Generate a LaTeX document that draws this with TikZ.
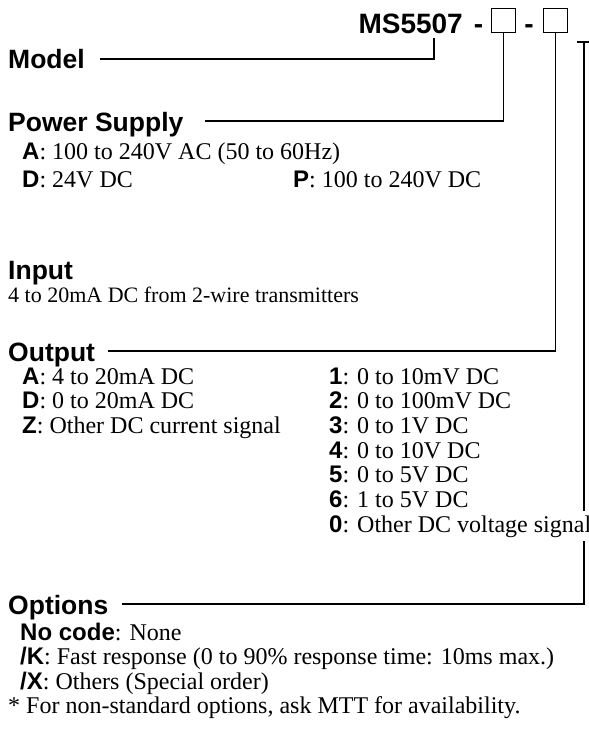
\documentclass[tikz,border=0pt]{standalone}
\usepackage{fontspec}
\setmainfont{Liberation Serif}
\setsansfont{Liberation Sans}
\begin{document}
\begin{tikzpicture}[x=1pt,y=-1pt,
  every node/.style={inner sep=0pt, anchor=base west},
  head/.style={font=\sffamily\bfseries\fontsize{26.5}{26.5}\selectfont},
  item/.style={font=\fontsize{24}{24}\selectfont},
  codebox/.style={draw, line width=1.2pt, minimum width=24pt, minimum height=24pt, anchor=south west},
  conn/.style={line width=1.2pt}]
\newcommand{\ky}[1]{{\sffamily\bfseries #1}}
\useasboundingbox (0,0) rectangle (589,742);
% model code
\node[font=\sffamily\bfseries\fontsize{28}{28}\selectfont, anchor=base east] (ms) at (463,33) {MS5507};
\node[font=\sffamily\bfseries\fontsize{28}{28}\selectfont, anchor=base] (d1) at (478.5,33) {-};
\node[font=\sffamily\bfseries\fontsize{28}{28}\selectfont, anchor=base] (d2) at (529,33) {-};
\node[codebox] (b1) at (491,33) {};
\node[codebox] (b2) at (543,33) {};
\coordinate (c3top) at (584,42);
\coordinate (t1) at (577,42);
\coordinate (t2) at (590,42);
\coordinate (msb) at (434,38);
% headings
\node[head] (model) at (8,68) {Model};
\node[head] (power) at (8,131) {Power Supply};
\node[head] (input) at (8,279) {Input};
\node[head] (output) at (8,361) {Output};
\node[head] (options) at (8,614) {Options};
% connectors
\coordinate (mc) at (434,59);
\draw[conn] (100,59) -- (mc) -- (msb);
\coordinate (pc) at (b1.south |- 0,121);
\draw[conn] (205,121) -- (pc) -- (b1.south);
\coordinate (oc) at (b2.south |- 0,351);
\draw[conn] (108,351) -- (oc) -- (b2.south);
\coordinate (opc) at (584,604);
\draw[conn] (122,604) -- (opc) -- (c3top);
\draw[conn] (t1) -- (t2);
% power supply items
\node[item] (pa) at (22,159) {\ky{A}: 100 to 240V AC (50 to 60Hz)};
\node[item] (pd) at (22,187) {\ky{D}: 24V DC};
\node[item] (pp) at (293,187) {\ky{P}: 100 to 240V DC};
% input
\node[font=\fontsize{22}{22}\selectfont] (in) at (8,302) {4 to 20mA DC from 2-wire transmitters};
% output
\node[item] (oa) at (22,384) {\ky{A}: 4 to 20mA DC};
\node[item] (od) at (22,408.7) {\ky{D}: 0 to 20mA DC};
\node[item] (oz) at (22,433.4) {\ky{Z}: Other DC current signal};
\node[item] (o1) at (329,384) {\ky{1}: 0 to 10mV DC};
\node[item] (o2) at (329,408.7) {\ky{2}: 0 to 100mV DC};
\node[item] (o3) at (329,433.4) {\ky{3}: 0 to 1V DC};
\node[item] (o4) at (329,458.1) {\ky{4}: 0 to 10V DC};
\node[item] (o5) at (329,482.8) {\ky{5}: 0 to 5V DC};
\node[item] (o6) at (329,507.5) {\ky{6}: 1 to 5V DC};
\node[item, fill=white, inner ysep=4pt] (o0) at (329,532.2) {\ky{0}: Other DC voltage signal};
% options
\node[item] (nc) at (20,640) {\ky{No code}: None};
\node[item] (ok) at (20,664.5) {\ky{/K}: Fast response (0 to 90\% response time: 10ms max.)};
\node[item] (ox) at (20,689) {\ky{/X}: Others (Special order)};
\node[item] (note) at (8,713.5) {* For non-standard options, ask MTT for availability.};
\end{tikzpicture}
\end{document}
